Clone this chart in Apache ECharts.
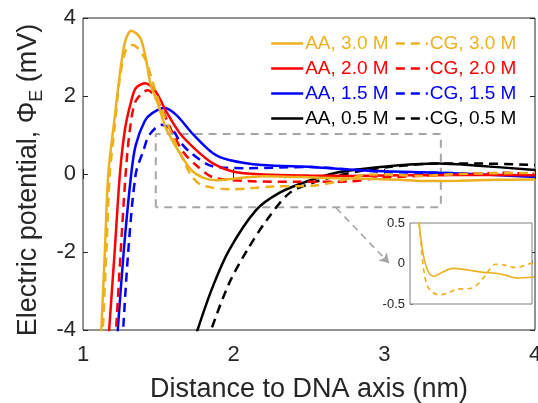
<!DOCTYPE html>
<html>
<head>
<meta charset="utf-8">
<script src="https://cdn.jsdelivr.net/npm/echarts@6/dist/echarts.min.js"></script>
<style>
  html, body { margin: 0; padding: 0; background: #fff; }
  #chart { width: 538px; height: 403px; }
</style>
</head>
<body>
<div id="chart"></div>
<script>
// curves, [distance nm, potential mV]
var aa30 = [[1.118,-4.3],[1.145,-2],[1.168,0],[1.21,1.44],[1.25,2.72],[1.28,3.4],[1.32,3.67],[1.38,3.49],[1.42,2.9],[1.45,2.28],[1.50,1.77],[1.55,1.18],[1.64,0.55],[1.72,0.1],[1.8,-0.1],[1.89,-0.16],[2.0,-0.12],[2.2,-0.06],[2.45,-0.08],[2.7,-0.11],[2.9,-0.12],[3.1,-0.15],[3.25,-0.18],[3.5,-0.17],[3.75,-0.15],[4.0,-0.14]];
var cg30 = [[1.128,-4.3],[1.155,-2],[1.178,0],[1.21,1.2],[1.245,2.46],[1.285,3.18],[1.33,3.31],[1.41,2.97],[1.46,2.38],[1.52,1.69],[1.60,0.92],[1.66,0.41],[1.72,-0.05],[1.78,-0.27],[1.86,-0.35],[1.98,-0.39],[2.1,-0.37],[2.26,-0.32],[2.53,-0.30],[2.69,-0.19],[2.8,-0.08],[2.9,-0.01],[3.05,-0.02],[3.23,-0.05],[3.48,0.0],[3.75,0.02],[4.0,0.03]];
var aa20 = [[1.168,-4.3],[1.21,-2],[1.245,0],[1.28,1.18],[1.32,1.87],[1.35,2.2],[1.41,2.33],[1.48,2.13],[1.55,1.62],[1.64,1.06],[1.75,0.62],[1.86,0.28],[2.0,0.06],[2.2,-0.01],[2.5,-0.04],[2.75,-0.05],[3.0,-0.04],[3.3,-0.03],[3.6,-0.02],[4.0,-0.03]];
var cg20 = [[1.215,-4.3],[1.25,-2],[1.283,0],[1.31,1.1],[1.35,1.87],[1.43,2.15],[1.51,1.77],[1.58,1.18],[1.66,0.59],[1.75,0.23],[1.86,-0.08],[2.09,-0.18],[2.42,-0.2],[2.77,-0.19],[2.97,-0.1],[3.36,-0.03],[3.8,0.03],[4.0,0.0]];
var aa15 = [[1.225,-4.3],[1.27,-2],[1.32,0],[1.35,0.74],[1.41,1.36],[1.46,1.56],[1.54,1.69],[1.62,1.51],[1.73,1.02],[1.86,0.54],[1.97,0.36],[2.19,0.23],[2.52,0.18],[2.70,0.13],[3.0,0.07],[3.36,0.03],[3.7,-0.02],[4.0,-0.08]];
var cg15 = [[1.262,-4.3],[1.30,-2],[1.35,0],[1.40,0.59],[1.44,1.0],[1.52,1.26],[1.60,1.1],[1.64,0.85],[1.71,0.56],[1.86,0.2],[2.09,0.15],[2.52,0.18],[2.75,0.12],[3.03,0.05],[3.36,0.03],[3.7,0.0],[4.0,-0.05]];
var aa05 = [[1.74,-4.3],[1.76,-4],[1.86,-2.9],[1.97,-1.95],[2.15,-0.92],[2.30,-0.49],[2.48,-0.2],[2.68,0.03],[2.85,0.13],[3.03,0.2],[3.2,0.25],[3.36,0.27],[3.6,0.22],[4.0,0.1]];
var cg05 = [[1.83,-4.3],[1.85,-4],[1.97,-2.8],[2.09,-1.95],[2.22,-1.18],[2.37,-0.49],[2.52,-0.23],[2.68,-0.05],[2.85,0.08],[3.03,0.18],[3.36,0.27],[3.6,0.27],[4.0,0.23]];

var names = ['AA, 3.0 M', 'CG, 3.0 M', 'AA, 2.0 M', 'CG, 2.0 M', 'AA, 1.5 M', 'CG, 1.5 M', 'AA, 0.5 M', 'CG, 0.5 M'];
var curves = [aa30, cg30, aa20, cg20, aa15, cg15, aa05, cg05];
var colors = ['#EDB120', '#EDB120', '#FF0000', '#FF0000', '#0000FF', '#0000FF', '#000000', '#000000'];

// zoom box and arrow (data units)
var boxX = [1.483, 3.375];
var boxY = [-0.85, 1.026];
var arrowFrom = [2.68, -0.87];
var arrowTo = [3.03, -2.28];

// inset ranges
var insetX = [1.5, 3.5];
var insetY = [-0.5, 0.5];

var font = 'Liberation Sans, Arial, sans-serif';
var ink = '#262626';

var chart = echarts.init(document.getElementById('chart'));

var series = curves.map(function (d, i) {
  return {
    name: names[i],
    type: 'line',
    xAxisIndex: 0, yAxisIndex: 0,
    data: d,
    symbol: 'none',
    smooth: 0.3,
    z: 10 - Math.floor(i / 2),
    lineStyle: { color: colors[i], width: 2.5, type: i % 2 ? [9, 6] : 'solid' },
    itemStyle: { color: colors[i] }
  };
});

series.push({
  name: 'box',
  type: 'line',
  xAxisIndex: 0, yAxisIndex: 0,
  symbol: 'none',
  data: [[boxX[0], boxY[0]], [boxX[0], boxY[1]], [boxX[1], boxY[1]], [boxX[1], boxY[0]], [boxX[0], boxY[0]]],
  lineStyle: { color: '#a6a6a6', width: 2, type: [8, 6] },
  z: 1,
  markLine: {
    silent: true,
    symbol: ['none', 'arrow'],
    symbolSize: 9,
    label: { show: false },
    lineStyle: { color: '#a6a6a6', width: 1.6, type: [7, 5] },
    data: [[{ coord: arrowFrom }, { coord: arrowTo }]]
  }
});

[aa30, cg30].forEach(function (d, i) {
  series.push({
    name: 'inset ' + i,
    type: 'line',
    xAxisIndex: 2, yAxisIndex: 2,
    data: d,
    symbol: 'none',
    smooth: 0.3,
    lineStyle: { color: '#EDB120', width: 1.6, type: i ? [5, 4] : 'solid' },
    z: 20
  });
});

var legendData = names.map(function (n, i) {
  return { name: n, textStyle: { color: colors[i] } };
});

chart.setOption({
  animation: false,
  textStyle: { fontFamily: font },
  legend: {
    data: legendData,
    left: 270, top: 34,
    width: 266,
    itemWidth: 32, itemHeight: 14,
    itemGap: 6,
    padding: 0,
    itemStyle: { opacity: 0, borderWidth: 0 },
    lineStyle: { width: 2.4 },
    textStyle: { fontSize: 19, fontFamily: font, lineHeight: 17, padding: [0, 0, 0, -3] }
  },
  grid: [
    { left: 83, right: 3, top: 18, bottom: 73, show: true, borderColor: ink, borderWidth: 1, z: 0, outerBoundsMode: 'none' },
    { left: 410, top: 223, width: 122, height: 81, show: true, backgroundColor: '#fff', borderColor: '#7f7f7f', borderWidth: 1, z: 15, outerBoundsMode: 'none' }
  ],
  xAxis: [
    {
      type: 'value', gridIndex: 0, min: 1, max: 4, interval: 1,
      name: 'Distance to DNA axis (nm)', nameLocation: 'middle', nameGap: 46,
      nameTextStyle: { fontSize: 27, color: ink, fontFamily: font },
      axisLine: { show: false },
      axisTick: { inside: true, length: 5, lineStyle: { color: ink } },
      axisLabel: { fontSize: 22, color: ink, margin: 14, fontFamily: font },
      splitLine: { show: false }
    },
    {
      type: 'value', gridIndex: 0, min: 1, max: 4, interval: 1, position: 'top',
      axisLine: { show: false },
      axisTick: { inside: true, length: 5, lineStyle: { color: ink } },
      axisLabel: { show: false }, splitLine: { show: false }
    },
    {
      type: 'value', gridIndex: 1, min: insetX[0], max: insetX[1], interval: 1,
      axisLine: { show: false },
      axisTick: { inside: true, length: 3, lineStyle: { color: '#7f7f7f' } },
      axisLabel: {
        fontSize: 13, color: ink, margin: 7, fontFamily: font,
        formatter: function (v) { return v % 1 === 0 ? String(v) : ''; }
      },
      splitLine: { show: false }
    }
  ],
  yAxis: [
    {
      type: 'value', gridIndex: 0, min: -4, max: 4, interval: 2,
      name: 'Electric potential, Φ{sub|E} (mV)', nameLocation: 'middle', nameGap: 35,
      nameTextStyle: {
        fontSize: 27, color: ink, fontFamily: font, lineHeight: 34, padding: [0, 12, 0, 0],
        rich: { sub: { fontSize: 18, color: ink, fontFamily: font, lineHeight: 20, verticalAlign: 'bottom' } }
      },
      axisLine: { show: false },
      axisTick: { inside: true, length: 5, lineStyle: { color: ink } },
      axisLabel: { fontSize: 22, color: ink, margin: 7, fontFamily: font },
      splitLine: { show: false }
    },
    {
      type: 'value', gridIndex: 0, min: -4, max: 4, interval: 2, position: 'right',
      axisLine: { show: false },
      axisTick: { inside: true, length: 5, lineStyle: { color: ink } },
      axisLabel: { show: false }, splitLine: { show: false }
    },
    {
      type: 'value', gridIndex: 1, min: insetY[0], max: insetY[1], interval: 0.5,
      axisLine: { show: false },
      axisTick: { inside: true, length: 3, lineStyle: { color: '#7f7f7f' } },
      axisLabel: { fontSize: 13, color: ink, margin: 5, fontFamily: font },
      splitLine: { show: false }
    }
  ],
  series: series
});
</script>
</body>
</html>
